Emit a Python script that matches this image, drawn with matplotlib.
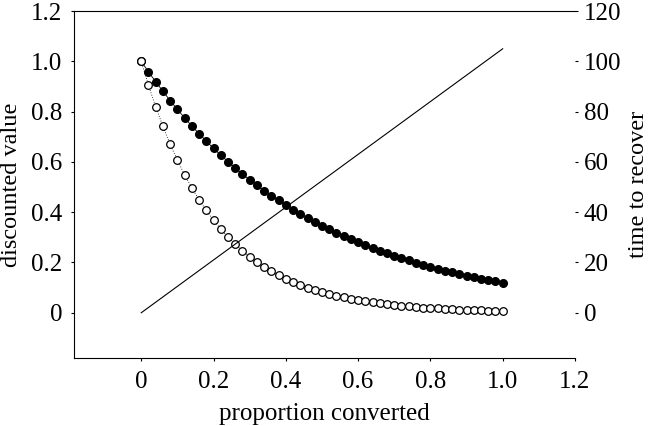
import matplotlib
matplotlib.use("Agg")
import matplotlib.pyplot as plt

plt.rcParams['font.family'] = ['Liberation Serif', 'DejaVu Serif']

proportion = [0.00, 0.02, 0.04, 0.06, 0.08, 0.10, 0.12, 0.14, 0.16, 0.18,
              0.20, 0.22, 0.24, 0.26, 0.28, 0.30, 0.32, 0.34, 0.36, 0.38,
              0.40, 0.42, 0.44, 0.46, 0.48, 0.50, 0.52, 0.54, 0.56, 0.58,
              0.60, 0.62, 0.64, 0.66, 0.68, 0.70, 0.72, 0.74, 0.76, 0.78,
              0.80, 0.82, 0.84, 0.86, 0.88, 0.90, 0.92, 0.94, 0.96, 0.98, 1.00]

value_slow = [1.000, 0.958, 0.919, 0.881, 0.844, 0.809, 0.775, 0.743, 0.712, 0.683,
              0.654, 0.627, 0.601, 0.576, 0.552, 0.529, 0.507, 0.486, 0.466, 0.447,
              0.428, 0.410, 0.393, 0.377, 0.361, 0.346, 0.332, 0.318, 0.305, 0.292,
              0.280, 0.268, 0.257, 0.247, 0.236, 0.227, 0.217, 0.208, 0.199, 0.191,
              0.183, 0.176, 0.168, 0.161, 0.155, 0.148, 0.142, 0.136, 0.131, 0.125, 0.120]

value_fast = [1.000, 0.905, 0.819, 0.741, 0.670, 0.607, 0.549, 0.497, 0.449, 0.407,
              0.368, 0.333, 0.301, 0.273, 0.247, 0.223, 0.202, 0.183, 0.165, 0.150,
              0.135, 0.122, 0.111, 0.100, 0.091, 0.082, 0.074, 0.067, 0.061, 0.055,
              0.050, 0.045, 0.041, 0.037, 0.033, 0.030, 0.027, 0.025, 0.022, 0.020,
              0.018, 0.017, 0.015, 0.014, 0.012, 0.011, 0.010, 0.009, 0.008, 0.007, 0.007]

recover_x = [0.0, 1.0]
recover_time = [0, 105]

x_ticks = [0, 0.2, 0.4, 0.6, 0.8, 1.0, 1.2]
x_ticklabels = ['0', '0.2', '0.4', '0.6', '0.8', '1.0', '1.2']
y_ticks = [0, 0.2, 0.4, 0.6, 0.8, 1.0, 1.2]
y_ticklabels = ['0', '0.2', '0.4', '0.6', '0.8', '1.0', '1.2']
r_ticks = [0, 20, 40, 60, 80, 100, 120]
r_ticklabels = ['0', '20', '40', '60', '80', '100', '120']

fig = plt.figure(figsize=(6.51, 4.26), dpi=100)
ax = fig.add_axes([0.1137, 0.1596, 0.7695, 0.8144])
ax2 = ax.twinx()

ax.plot(proportion, value_slow, color='black', lw=0.6, marker='o', ms=5.5,
        mfc='black', mec='black', zorder=3)
ax.plot(proportion, value_fast, color='black', lw=0.6, ls=(0, (1, 2)), marker='o', ms=5.5,
        mfc='white', mec='black', mew=0.9, zorder=4)
ax2.plot(recover_x, recover_time, color='black', lw=0.8)

ax.set_xlim(-0.186, 1.2)
ax.set_ylim(-0.18, 1.2)
ax2.set_ylim(-18, 120)

ax.set_xticks(x_ticks)
ax.set_xticklabels(x_ticklabels)
ax.set_yticks(y_ticks)
ax.set_yticklabels(y_ticklabels)
ax2.set_yticks(r_ticks)
ax2.set_yticklabels(r_ticklabels)

for a in (ax, ax2):
    a.spines['right'].set_visible(False)
    a.tick_params(direction='out', length=2.5, width=0.8, labelsize=18)
ax.tick_params(axis='y', pad=6)
ax.tick_params(axis='x', pad=7)
ax2.tick_params(axis='y', pad=4)
ax2.spines['left'].set_visible(False)
ax2.spines['top'].set_visible(False)
ax2.spines['bottom'].set_visible(False)

ax.set_xlabel('proportion converted', fontsize=18)
ax.set_ylabel('discounted value', fontsize=17.5)
ax2.set_ylabel('time to recover', fontsize=17.5)
ax.xaxis.set_label_coords(0.5, -0.161, transform=ax.transAxes)
ax.yaxis.set_label_coords(-0.125, 0.5, transform=ax.transAxes)
ax2.yaxis.set_label_coords(1.127, 0.5, transform=ax2.transAxes)
ax.xaxis.label.set_va('center')
ax.yaxis.label.set_va('center')
ax2.yaxis.label.set_va('center')

fig.savefig('out.png', dpi=100)
